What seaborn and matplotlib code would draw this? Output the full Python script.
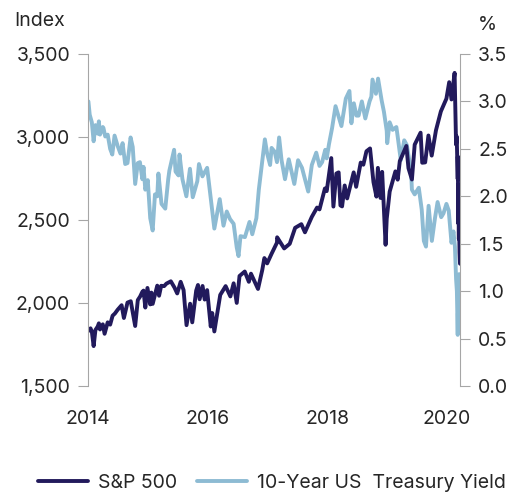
import pandas as pd
import seaborn as sns
import matplotlib.pyplot as plt
import matplotlib.dates as mdates
from matplotlib.ticker import FuncFormatter, MultipleLocator

# S&P 500 index level (approx. readings)
sp_dates = [
    '2014-01-02', '2014-01-15', '2014-01-23', '2014-02-03', '2014-02-14', '2014-02-28', '2014-03-07',
    '2014-03-14', '2014-03-31', '2014-04-11', '2014-04-30', '2014-05-15', '2014-05-30', '2014-06-13',
    '2014-06-30', '2014-07-24', '2014-08-07', '2014-08-29', '2014-09-18', '2014-10-15', '2014-10-31',
    '2014-11-14', '2014-11-28', '2014-12-05', '2014-12-16', '2014-12-29',
    '2015-01-15', '2015-01-22', '2015-01-30', '2015-02-27', '2015-03-10', '2015-03-23', '2015-04-10',
    '2015-04-24', '2015-05-21', '2015-06-12', '2015-06-29', '2015-07-20', '2015-08-07', '2015-08-25',
    '2015-09-16', '2015-09-29', '2015-10-23', '2015-11-03', '2015-11-13', '2015-12-01', '2015-12-14',
    '2015-12-29',
    '2016-01-20', '2016-01-29', '2016-02-11', '2016-03-18', '2016-04-20', '2016-05-19', '2016-06-08',
    '2016-06-27', '2016-07-14', '2016-08-15', '2016-09-09', '2016-09-22', '2016-11-04', '2016-11-30',
    '2016-12-13', '2016-12-30',
    '2017-01-26', '2017-02-28', '2017-03-01', '2017-04-13', '2017-05-17', '2017-06-19', '2017-07-27',
    '2017-08-18', '2017-09-29', '2017-10-31', '2017-11-15', '2017-12-18', '2017-12-29',
    '2018-01-26', '2018-02-08', '2018-02-26', '2018-03-12', '2018-03-23', '2018-04-02', '2018-04-18',
    '2018-05-03', '2018-06-12', '2018-06-27', '2018-07-25', '2018-08-10', '2018-08-29', '2018-09-20',
    '2018-10-11', '2018-10-29', '2018-11-07', '2018-11-23', '2018-12-03', '2018-12-24', '2018-12-31',
    '2019-01-18', '2019-02-22', '2019-03-08', '2019-03-21', '2019-04-30', '2019-05-13', '2019-06-03',
    '2019-06-20', '2019-07-26', '2019-08-05', '2019-08-23', '2019-09-12', '2019-10-02', '2019-10-28',
    '2019-11-27', '2019-12-31',
    '2020-01-17', '2020-01-31', '2020-02-19', '2020-02-28', '2020-03-03', '2020-03-09', '2020-03-10',
    '2020-03-12', '2020-03-13', '2020-03-16', '2020-03-17', '2020-03-20', '2020-03-23',
]
sp_values = [
    1832, 1848, 1828, 1741, 1838, 1859, 1878,
    1841, 1872, 1815, 1884, 1870, 1924, 1937,
    1960, 1987, 1910, 2003, 2011, 1862, 2018,
    2039, 2068, 2075, 1973, 2091,
    1992, 2063, 1995, 2105, 2044, 2104, 2102,
    2117, 2131, 2094, 2058, 2128, 2078, 1867,
    1996, 1884, 2075, 2109, 2023, 2103, 2021,
    2078,
    1859, 1940, 1829, 2049, 2102, 2040, 2119,
    2001, 2163, 2190, 2128, 2177, 2085, 2199,
    2271, 2239,
    2297, 2364, 2396, 2329, 2357, 2453, 2475,
    2426, 2519, 2575, 2564, 2690, 2674,
    2873, 2581, 2780, 2787, 2588, 2582, 2708,
    2630, 2787, 2700, 2846, 2833, 2914, 2931,
    2728, 2641, 2814, 2633, 2790, 2351, 2507,
    2671, 2793, 2743, 2855, 2946, 2812, 2744,
    2954, 3026, 2845, 2847, 3009, 2888, 3040,
    3154, 3231,
    3330, 3226, 3386, 2954, 3003, 2747, 2882,
    2481, 2711, 2386, 2529, 2305, 2237,
]

# 10-year US Treasury yield, % (approx. readings)
ty_dates = [
    '2014-01-02', '2014-01-10', '2014-01-23', '2014-02-03', '2014-02-14', '2014-02-28', '2014-03-07',
    '2014-03-14', '2014-03-31', '2014-04-04', '2014-04-15', '2014-04-30', '2014-05-15', '2014-05-28',
    '2014-06-11', '2014-06-30', '2014-07-17', '2014-07-30', '2014-08-15', '2014-08-29', '2014-09-17',
    '2014-09-30', '2014-10-15', '2014-10-31', '2014-11-13', '2014-11-28', '2014-12-05', '2014-12-16',
    '2014-12-31',
    '2015-01-15', '2015-01-30', '2015-02-13', '2015-02-27', '2015-03-06', '2015-03-25', '2015-04-17',
    '2015-05-05', '2015-05-12', '2015-06-10', '2015-06-19', '2015-07-07', '2015-07-13', '2015-07-31',
    '2015-08-24', '2015-09-15', '2015-10-02', '2015-10-30', '2015-11-09', '2015-11-30', '2015-12-29',
    '2016-01-20', '2016-02-11', '2016-03-15', '2016-04-07', '2016-04-27', '2016-05-17', '2016-06-08',
    '2016-06-27', '2016-07-08', '2016-07-20', '2016-08-16', '2016-09-13', '2016-09-30', '2016-10-25',
    '2016-11-09', '2016-11-30', '2016-12-16', '2016-12-30',
    '2017-01-17', '2017-01-26', '2017-02-14', '2017-02-28', '2017-03-13', '2017-03-28', '2017-04-18',
    '2017-05-11', '2017-06-14', '2017-07-07', '2017-07-31', '2017-08-17', '2017-09-07', '2017-09-29',
    '2017-10-26', '2017-11-15', '2017-12-01', '2017-12-20', '2017-12-29',
    '2018-01-12', '2018-01-31', '2018-02-21', '2018-03-05', '2018-03-29', '2018-04-25', '2018-05-17',
    '2018-05-29', '2018-06-13', '2018-06-29', '2018-07-12', '2018-08-01', '2018-08-22', '2018-09-17',
    '2018-09-28', '2018-10-05', '2018-10-26', '2018-11-08', '2018-11-30', '2018-12-14', '2018-12-31',
    '2019-01-03', '2019-01-18', '2019-02-05', '2019-02-28', '2019-03-08', '2019-03-27', '2019-04-17',
    '2019-05-03', '2019-05-29', '2019-06-03', '2019-06-20', '2019-07-15', '2019-08-02', '2019-08-15',
    '2019-08-28', '2019-09-13', '2019-10-03', '2019-10-22', '2019-11-07', '2019-11-29', '2019-12-13',
    '2019-12-31',
    '2020-01-14', '2020-01-31', '2020-02-12', '2020-02-21', '2020-02-28', '2020-03-04', '2020-03-09',
    '2020-03-10', '2020-03-12', '2020-03-18', '2020-03-20', '2020-03-23',
]
ty_values = [
    3.00, 2.86, 2.78, 2.58, 2.75, 2.66, 2.79,
    2.65, 2.73, 2.72, 2.63, 2.65, 2.50, 2.44,
    2.64, 2.53, 2.45, 2.56, 2.34, 2.35, 2.62,
    2.52, 2.13, 2.35, 2.36, 2.18, 2.31, 2.07,
    2.17,
    1.77, 1.64, 2.02, 2.00, 2.24, 1.92, 1.87,
    2.18, 2.27, 2.49, 2.26, 2.22, 2.44, 2.18,
    2.00, 2.29, 1.99, 2.16, 2.34, 2.21, 2.30,
    1.98, 1.66, 1.97, 1.69, 1.84, 1.76, 1.71,
    1.46, 1.37, 1.58, 1.57, 1.73, 1.60, 1.77,
    2.07, 2.37, 2.60, 2.45,
    2.33, 2.51, 2.47, 2.36, 2.62, 2.38, 2.18,
    2.39, 2.13, 2.38, 2.30, 2.19, 2.05, 2.33,
    2.46, 2.32, 2.36, 2.49, 2.40,
    2.55, 2.72, 2.95, 2.88, 2.74, 3.03, 3.11,
    2.77, 2.98, 2.85, 2.85, 3.00, 2.82, 3.00,
    3.05, 3.23, 3.08, 3.24, 3.01, 2.89, 2.69,
    2.56, 2.78, 2.70, 2.73, 2.63, 2.38, 2.59,
    2.54, 2.26, 2.07, 2.02, 2.09, 1.86, 1.53,
    1.47, 1.90, 1.53, 1.77, 1.94, 1.78, 1.82,
    1.92,
    1.85, 1.51, 1.63, 1.47, 1.13, 1.00, 0.54,
    0.76, 0.82, 1.18, 0.92, 0.76,
]

sp = pd.DataFrame({'date': pd.to_datetime(sp_dates), 'value': sp_values})
ty = pd.DataFrame({'date': pd.to_datetime(ty_dates), 'value': ty_values})

navy = '#221a5c'
light = '#8dbbd3'
grey = '#a6a6a6'

sns.set_style('white')
plt.rcParams['font.family'] = ['Inter', 'DejaVu Sans']
plt.rcParams['font.size'] = 14

fig = plt.figure(figsize=(5.13, 4.95), dpi=100)
ax = fig.add_axes([0.172, 0.22, 0.725, 0.671])
ax2 = ax.twinx()

sns.lineplot(data=ty, x='date', y='value', ax=ax2, color=light, linewidth=2.8, label='10-Year US  Treasury Yield', legend=False)
sns.lineplot(data=sp, x='date', y='value', ax=ax, color=navy, linewidth=2.8, label='S&P 500', legend=False)

# S&P drawn over the yield line
ax.set_zorder(ax2.get_zorder() + 1)
ax.patch.set_visible(False)

ax.set_xlim(pd.Timestamp('2014-01-01'), pd.Timestamp('2020-03-24'))
ax.set_ylim(1500, 3500)
ax2.set_ylim(0, 3.5)
ax.yaxis.set_major_locator(MultipleLocator(500))
ax2.yaxis.set_major_locator(MultipleLocator(0.5))
ax.yaxis.set_major_formatter(FuncFormatter(lambda v, p: f'{v:,.0f}'))
ax2.yaxis.set_major_formatter(FuncFormatter(lambda v, p: f'{v:.1f}'))
ax.xaxis.set_major_locator(mdates.YearLocator(2))
ax.xaxis.set_major_formatter(mdates.DateFormatter('%Y'))

for a in (ax, ax2):
    a.set_xlabel('')
    a.set_ylabel('')
    for s in a.spines.values():
        s.set_visible(False)
ax.spines['left'].set_visible(True)
ax.spines['left'].set_color(grey)
ax2.spines['right'].set_visible(True)
ax2.spines['right'].set_color(grey)

ax.tick_params(axis='y', left=True, length=7, color=grey, labelsize=14, pad=6)
ax2.tick_params(axis='y', right=True, length=7, color=grey, labelsize=14, pad=6)
ax.tick_params(axis='x', bottom=False, labelsize=14, pad=14)

fig.text(0.027, 0.958, 'Index', fontsize=14, va='center')
fig.text(0.932, 0.95, '%', fontsize=14, va='center')

h1, l1 = ax.get_legend_handles_labels()
h2, l2 = ax2.get_legend_handles_labels()
fig.legend(h1 + h2, l1 + l2, loc='center', bbox_to_anchor=(0.53, 0.024), ncol=2,
           frameon=False, fontsize=14, handlelength=2.6, columnspacing=1.0, handletextpad=0.5,
           borderpad=0.2)

fig.savefig('out.png', dpi=100)
